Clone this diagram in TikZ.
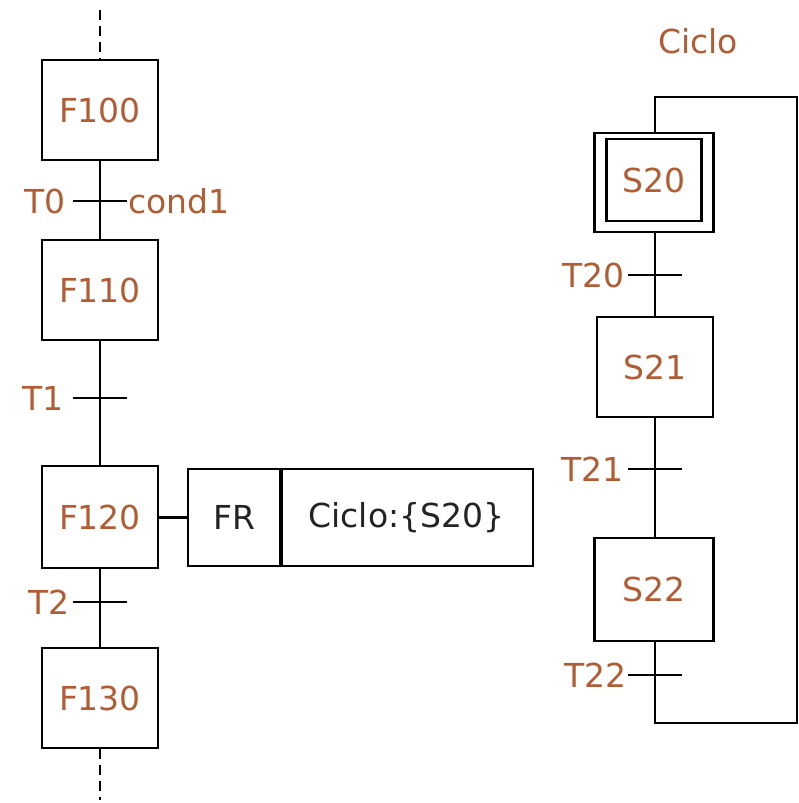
\documentclass[tikz,border=0pt]{standalone}
\usepackage{fontspec}
\setmainfont{DejaVu Sans}
\definecolor{lbl}{RGB}{178,92,52}
\definecolor{txt}{RGB}{35,35,35}
\begin{document}
\begin{tikzpicture}[x=1pt,y=-1pt,
  every node/.style={font=\fontsize{33}{36}\selectfont},
  stepbox/.style={draw,line width=2.8pt,minimum width=116pt,minimum height=100pt,inner sep=0pt,text=lbl},
  actbox/.style={draw,line width=2.8pt,minimum height=97pt,inner sep=0pt,text=txt},
  link/.style={line width=2.8pt},
  tick/.style={line width=2.8pt},
  tlabel/.style={text=lbl,inner sep=0pt}]
\useasboundingbox (0,0) rectangle (799,803);
% left chart
\node[stepbox] (F100) at (100,110) {F100};
\node[stepbox] (F110) at (100,290) {F110};
\node[stepbox,minimum height=102pt] (F120) at (100,517) {F120};
\node[stepbox] (F130) at (100,698) {F130};
\coordinate (top) at (100,10);
\coordinate (bot) at (100,800);
\coordinate (t0) at (100,201);
\coordinate (t1) at (100,398);
\coordinate (t2) at (100,602);
\draw[link,dash pattern=on 10pt off 6pt] (top) -- (F100.north);
\draw[link] (F100) -- (F110);
\draw[link] (F110) -- (F120);
\draw[link] (F120) -- (F130);
\draw[link,dash pattern=on 10pt off 6pt] (F130.south) -- (bot);
\draw[tick] ([xshift=-27pt]t0) -- ([xshift=27pt]t0);
\draw[tick] ([xshift=-27pt]t1) -- ([xshift=27pt]t1);
\draw[tick] ([xshift=-27pt]t2) -- ([xshift=27pt]t2);
\node[tlabel,anchor=east] (T0) at (66,201) {T0};
\node[tlabel,anchor=west] (c1) at (128,201) {cond1};
\node[tlabel,anchor=east] (T1) at (64,398) {T1};
\node[tlabel,anchor=east] (T2) at (70,602) {T2};
% action
\node[actbox,minimum width=92pt] (FR) at (234,517.5) {FR};
\node[actbox,minimum width=253pt] (act) at (406.5,517.5) {Ciclo:\{S20\}};
\draw[line width=4pt] (FR.north east) -- (FR.south east);
\draw[link] (F120.east |- FR.west) -- (FR.west);
% right chart
\node[text=lbl] (title) at (698,41) {Ciclo};
\node[draw,line width=2.8pt,minimum width=119pt,minimum height=99pt,inner sep=0pt] (S20o) at (654,182.5) {};
\node[stepbox,minimum width=95pt,minimum height=82pt] (S20) at (654,180) {S20};
\node[stepbox] (S21) at (655,367) {S21};
\node[stepbox,minimum width=119pt,minimum height=103pt] (S22) at (654,589.5) {S22};
\coordinate (t20) at (655,275);
\coordinate (t21) at (655,469);
\coordinate (t22) at (655,675);
\coordinate (lb) at (655,723);
\coordinate (rb) at (797,723);
\coordinate (rt) at (797,97);
\coordinate (lt) at (655,97);
\draw[link] (S20o.south -| t20) -- (S21.north -| t20);
\draw[link] (S21.south -| t21) -- (S22.north -| t21);
\draw[link,line join=miter] (S22.south -| t22) -- (lb) -- (rb) -- (rt) -- (lt) -- (S20o.north -| lt);
\draw[tick] ([xshift=-27pt]t20) -- ([xshift=27pt]t20);
\draw[tick] ([xshift=-27pt]t21) -- ([xshift=27pt]t21);
\draw[tick] ([xshift=-27pt]t22) -- ([xshift=27pt]t22);
\node[tlabel,anchor=east] (T20) at (625,275) {T20};
\node[tlabel,anchor=east] (T21) at (624,469) {T21};
\node[tlabel,anchor=east] (T22) at (627,675) {T22};
\end{tikzpicture}
\end{document}
